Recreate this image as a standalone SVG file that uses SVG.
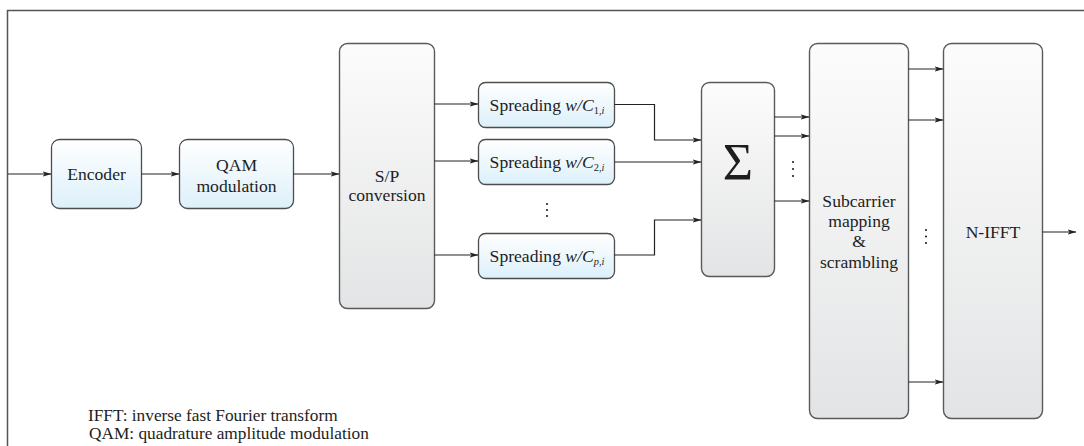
<svg xmlns="http://www.w3.org/2000/svg" width="1084" height="446" viewBox="0 0 1084 446">
<defs>
<linearGradient id="gBlue" x1="0" y1="0" x2="0" y2="1">
<stop offset="0" stop-color="#ffffff"/>
<stop offset="1" stop-color="#dcf0fa"/>
</linearGradient>
<linearGradient id="gGray" x1="0" y1="0" x2="0" y2="1">
<stop offset="0" stop-color="#fcfcfc"/>
<stop offset="1" stop-color="#e3e4e5"/>
</linearGradient>
<marker id="arr" markerWidth="9" markerHeight="6" refX="8.5" refY="3" orient="auto" markerUnits="userSpaceOnUse">
<path d="M0,0.4 L9,3 L0,5.6 L2.2,3 z" fill="#222"/>
</marker>
</defs>
<style>
.small{fill:url(#gBlue);stroke:#4d4d4d;stroke-width:1.3}
.big{fill:url(#gGray);stroke:#5a5a5a;stroke-width:1.4}
.ca{fill:none;stroke:#222;stroke-width:1.2;marker-end:url(#arr)}
.dot{fill:#222}
</style>
<rect width="1084" height="446" fill="#ffffff"/>
<path d="M7.5,446 L7.5,10.5 L1084,10.5" fill="none" stroke="#555" stroke-width="1.5"/>

<g font-family="'Liberation Serif', 'Times New Roman', serif" font-size="17.6" fill="#1e1e1e" text-anchor="middle">
<g id="encoder">
<rect class="small" x="51.5" y="139.5" width="90" height="69" rx="8"/>
<text x="96.5" y="180">Encoder</text>
</g>
<g id="qam">
<rect class="small" x="179.5" y="139.5" width="114" height="69" rx="8"/>
<text x="236.5" y="171">QAM</text>
<text x="236.5" y="192">modulation</text>
</g>
<g id="sp">
<rect class="big" x="339.5" y="43.5" width="95" height="265" rx="8"/>
<text x="387" y="182">S/P</text>
<text x="387" y="201">conversion</text>
</g>
<g id="spread1">
<rect class="small" x="478.5" y="82.5" width="136" height="45" rx="7"/>
<text x="547" y="111">Spreading <tspan font-style="italic">w/C</tspan><tspan font-size="10.4" dy="3">1,<tspan font-style="italic">i</tspan></tspan></text>
</g>
<g id="spread2">
<rect class="small" x="478.5" y="139.5" width="136" height="45" rx="7"/>
<text x="547" y="168">Spreading <tspan font-style="italic">w/C</tspan><tspan font-size="10.4" dy="3">2,<tspan font-style="italic">i</tspan></tspan></text>
</g>
<g id="spreadp">
<rect class="small" x="478.5" y="233.5" width="136" height="45" rx="7"/>
<text x="547" y="262">Spreading <tspan font-style="italic">w/C</tspan><tspan font-size="10.4" dy="3"><tspan font-style="italic">p</tspan>,<tspan font-style="italic">i</tspan></tspan></text>
</g>
<g id="sigma">
<rect class="big" x="701.5" y="82.5" width="73" height="194" rx="8"/>
<text x="738" y="180" font-size="52">Σ</text>
</g>
<g id="subcarrier">
<rect class="big" x="809.5" y="43.5" width="99" height="375" rx="8"/>
<text x="859" y="207">Subcarrier</text>
<text x="859" y="227">mapping</text>
<text x="859" y="247">&amp;</text>
<text x="859" y="268">scrambling</text>
</g>
<g id="nifft">
<rect class="big" x="943.5" y="43.5" width="99" height="375" rx="8"/>
<text x="993" y="238">N-IFFT</text>
</g>
<g id="legend" text-anchor="start" font-size="17.3">
<text x="88" y="421">IFFT: inverse fast Fourier transform</text>
<text x="89" y="439">QAM: quadrature amplitude modulation</text>
</g>
</g>

<g id="connectors">
<path class="ca" d="M8,174 L51,174"/>
<path class="ca" d="M141.5,174 L179,174"/>
<path class="ca" d="M293.5,174 L339,174"/>
<path class="ca" d="M434.5,104 L478,104"/>
<path class="ca" d="M434.5,161 L478,161"/>
<path class="ca" d="M434.5,255 L478,255"/>
<path class="ca" d="M614.5,104.5 L654.5,104.5 L654.5,140 L701,140"/>
<path class="ca" d="M614.5,162 L701,162"/>
<path class="ca" d="M614.5,255 L654.5,255 L654.5,220 L701,220"/>
<path class="ca" d="M774.5,117 L809,117"/>
<path class="ca" d="M774.5,136 L809,136"/>
<path class="ca" d="M774.5,201 L809,201"/>
<path class="ca" d="M908.5,69 L943,69"/>
<path class="ca" d="M908.5,120 L943,120"/>
<path class="ca" d="M908.5,382 L943,382"/>
<path class="ca" d="M1042.5,232 L1076,232"/>
</g>

<g id="dots">
<circle class="dot" cx="547" cy="204" r="1.1"/>
<circle class="dot" cx="547" cy="210" r="1.1"/>
<circle class="dot" cx="547" cy="216" r="1.1"/>
<circle class="dot" cx="793" cy="162" r="1.1"/>
<circle class="dot" cx="793" cy="169" r="1.1"/>
<circle class="dot" cx="793" cy="176" r="1.1"/>
<circle class="dot" cx="926" cy="230" r="1.1"/>
<circle class="dot" cx="926" cy="236.5" r="1.1"/>
<circle class="dot" cx="926" cy="243" r="1.1"/>
</g>
</svg>
